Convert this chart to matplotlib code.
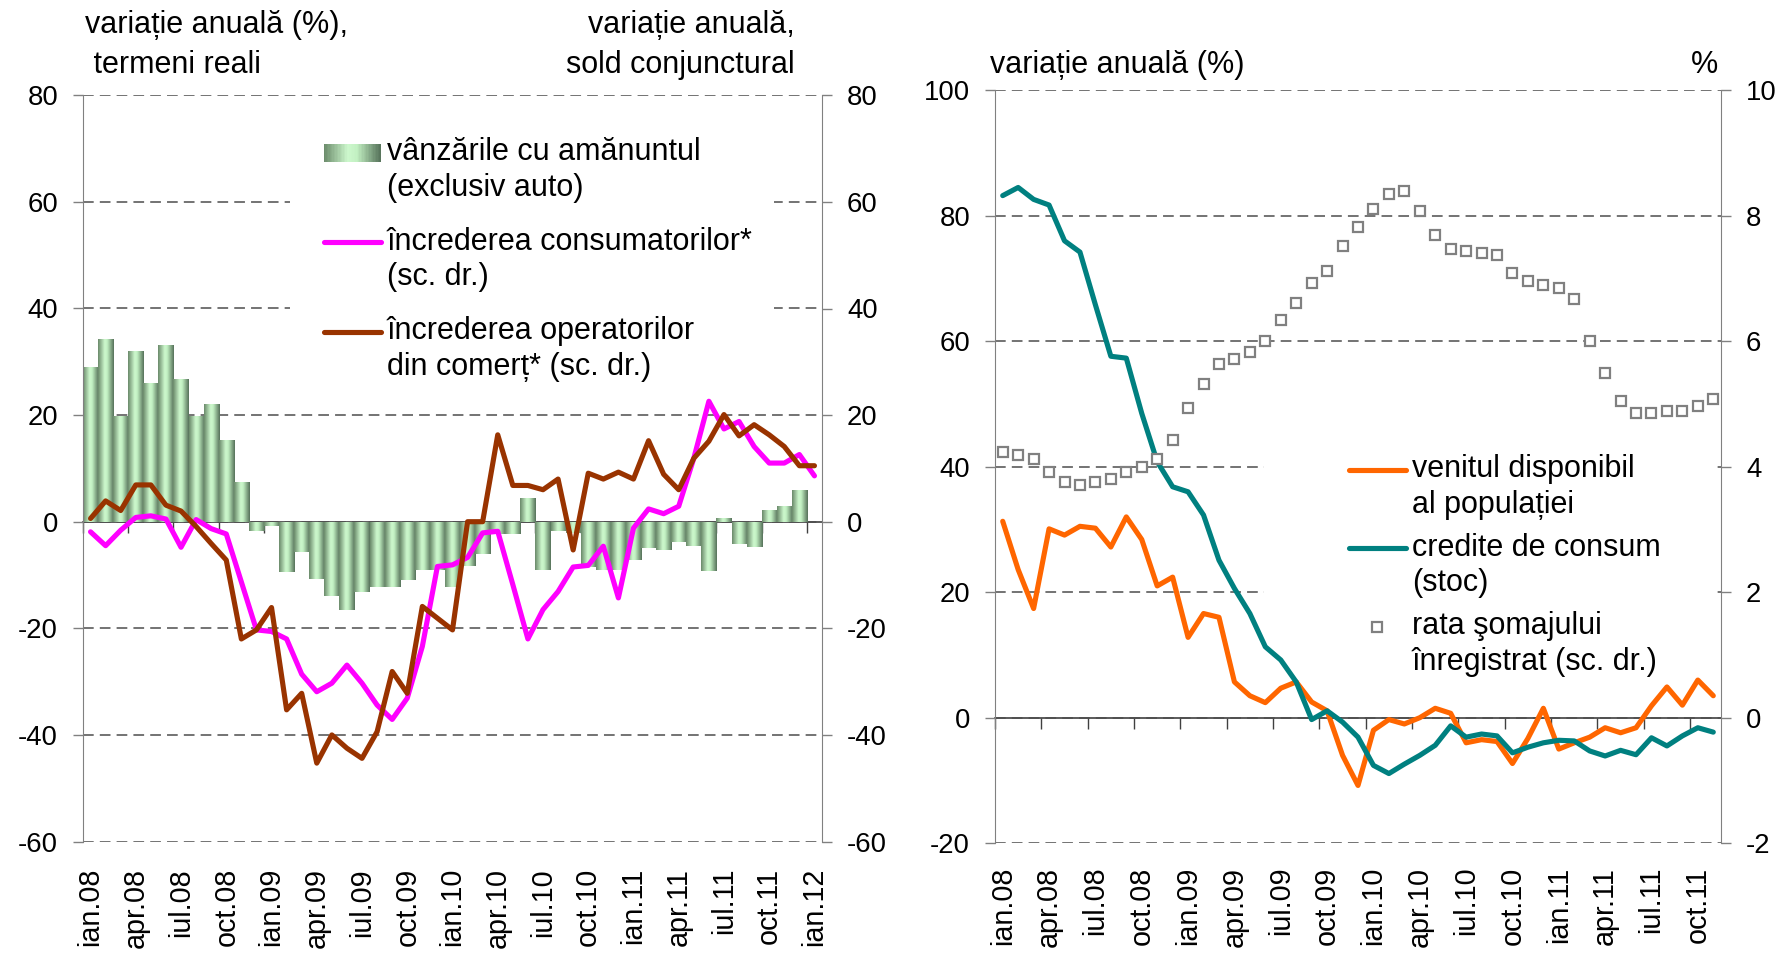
import numpy as np
import matplotlib
matplotlib.use('Agg')
import matplotlib.pyplot as plt
from matplotlib.patches import Rectangle
from matplotlib.legend_handler import HandlerBase, HandlerLine2D
from matplotlib.colors import LinearSegmentedColormap
from matplotlib.font_manager import FontProperties, findSystemFonts

plt.rcParams['font.family'] = ['Liberation Sans', 'DejaVu Sans']
plt.rcParams['axes.unicode_minus'] = False

# ---------------- data ----------------
left_xticklabels = ['ian.08', 'apr.08', 'iul.08', 'oct.08', 'ian.09', 'apr.09', 'iul.09', 'oct.09',
                    'ian.10', 'apr.10', 'iul.10', 'oct.10', 'ian.11', 'apr.11', 'iul.11', 'oct.11', 'ian.12']
right_xticklabels = ['ian.08', 'apr.08', 'iul.08', 'oct.08', 'ian.09', 'apr.09', 'iul.09', 'oct.09',
                     'ian.10', 'apr.10', 'iul.10', 'oct.10', 'ian.11', 'apr.11', 'iul.11', 'oct.11']

# left panel: monthly, ian.08 - dec.11 (bars), ian.08 - ian.12 (lines)
retail_sales = [29.0, 34.3, 19.9, 32.0, 26.0, 33.1, 26.8, 19.9, 22.0, 15.3, 7.4,
                -1.7, -0.9, -9.4, -5.7, -10.7, -13.9, -16.5, -13.2, -12.2, -12.2,
                -10.9, -9.1, -9.1, -12.3, -8.4, -6.1, -2.3, -2.3, 4.5,
                -9.1, -1.8, -2.2, -8.5, -9.0, -9.1, -7.1, -4.9, -5.4, -3.9,
                -4.6, -9.3, 0.7, -4.1, -4.7, 2.2, 3.0, 6.0]
consumer_conf = [-1.9, -4.5, -1.6, 0.8, 1.1, 0.5, -4.8, 0.4, -1.3, -2.3,
                 -11.3, -20.3, -20.6, -22.0, -28.6, -31.9, -30.3, -26.9, -30.3, -34.4,
                 -37.1, -33.1, -23.4, -8.4, -8.1, -6.7, -2.1, -1.8, -11.8, -22.0,
                 -16.5, -13.1, -8.5, -8.2, -4.6, -14.3, -1.2, 2.4, 1.5, 2.9,
                 11.9, 22.6, 17.4, 18.8, 14.1, 11.0, 11.0, 12.6, 8.6]
trade_conf = [0.6, 3.9, 2.1, 6.9, 6.9, 3.1, 2.0, -0.9, -4.1, -7.2,
              -22.0, -20.3, -16.1, -35.3, -32.2, -45.3, -40.0, -42.5, -44.4, -39.4,
              -28.1, -32.2, -15.9, -18.1, -20.3, 0.0, 0.0, 16.3, 6.8, 6.8,
              6.0, 8.0, -5.3, 9.1, 8.0, 9.3, 8.0, 15.2, 8.9, 6.0,
              11.9, 15.1, 20.1, 16.1, 18.2, 16.3, 14.1, 10.5, 10.5]

# right panel: monthly, ian.08 - nov.11
disposable_income = [31.3, 23.6, 17.4, 30.1, 29.1, 30.5, 30.2, 27.2, 32.0, 28.4,
                     21.0, 22.4, 12.8, 16.6, 16.0, 5.7, 3.5, 2.4, 4.7, 5.7,
                     2.5, 1.1, -6.0, -10.8, -2.0, -0.3, -1.0, 0.0, 1.5, 0.7,
                     -4.0, -3.5, -3.8, -7.3, -3.3, 1.5, -5.0, -4.0, -3.1, -1.6,
                     -2.4, -1.6, 1.9, 4.9, 2.0, 6.0, 3.5]
consumer_credit = [83.2, 84.5, 82.6, 81.7, 76.0, 74.2, 65.8, 57.6, 57.3, 48.5,
                   40.8, 36.8, 36.0, 32.3, 25.1, 20.6, 16.6, 11.3, 9.2, 5.7,
                   -0.3, 1.1, -0.7, -3.1, -7.6, -8.9, -7.4, -6.0, -4.4, -1.3,
                   -3.1, -2.6, -2.9, -5.6, -4.7, -4.0, -3.6, -3.7, -5.3, -6.1,
                   -5.2, -5.9, -3.2, -4.5, -2.9, -1.6, -2.3]
unemployment = [4.23, 4.19, 4.13, 3.91, 3.75, 3.71, 3.75, 3.81, 3.91, 4.00,
                4.13, 4.42, 4.93, 5.31, 5.63, 5.72, 5.82, 6.01, 6.33, 6.61,
                6.93, 7.12, 7.51, 7.82, 8.11, 8.34, 8.40, 8.08, 7.69, 7.47,
                7.44, 7.41, 7.38, 7.09, 6.96, 6.90, 6.84, 6.68, 6.01, 5.50,
                5.05, 4.86, 4.86, 4.89, 4.89, 4.96, 5.08]

# ---------------- style ----------------
W, H = 1785, 958
DPI = 100
GRID_C = '#4d4d4d'
SPINE_C = '#808080'
FS = 22
TICK_FS = 22
XTICK_FS = 23

narrow_path = None
for f in findSystemFonts():
    if f.endswith('LiberationSansNarrow-Regular.ttf'):
        narrow_path = f
        break


def tick_font(size):
    if narrow_path:
        return FontProperties(fname=narrow_path, size=size)
    return FontProperties(family=['Liberation Sans', 'DejaVu Sans'], size=size * 0.9)


grad_cmap = LinearSegmentedColormap.from_list(
    'bargrad', [(0.0, '#6a8a6a'), (0.42, '#cdf8cd'), (0.58, '#c2f0c2'), (1.0, '#56725a')])
grad = np.linspace(0, 1, 64).reshape(1, -1)

LINE_UP = 13.0  # points: aligns legend keys with the first text line


class GradientHandler(HandlerBase):
    def create_artists(self, legend, orig_handle, xdescent, ydescent, width, height, fontsize, trans):
        n = 40
        hh = height * 0.85
        y0 = -ydescent + (height - hh) / 2 + LINE_UP
        arts = []
        for k in range(n):
            r = Rectangle((-xdescent + width * k / n, y0), width / n * 1.1, hh,
                          facecolor=grad_cmap((k + 0.5) / n), edgecolor='none', transform=trans)
            arts.append(r)
        return arts


class UpLineHandler(HandlerLine2D):
    def create_artists(self, legend, orig_handle, xdescent, ydescent, width, height, fontsize, trans):
        return super().create_artists(legend, orig_handle, xdescent, ydescent - 2 * LINE_UP,
                                      width, height, fontsize, trans)


def px(x):
    return x / W


def py(y):
    return 1 - y / H


def style_axes(ax, ylim, yticks, tw, ylim2, yticks2, ncat, zero_frac):
    ax.set_xlim(-0.5, ncat - 0.5)
    ax.set_ylim(*ylim)
    ax.set_yticks(yticks)
    tw.set_ylim(*ylim2)
    tw.set_yticks(yticks2)
    for a in (ax, tw):
        for s in ('top', 'bottom'):
            a.spines[s].set_visible(False)
        a.spines['left'].set_color(SPINE_C)
        a.spines['right'].set_color(SPINE_C)
    ax.spines['right'].set_visible(False)
    tw.spines['left'].set_visible(False)
    ax.yaxis.grid(True, color=GRID_C, linestyle=(0, (7, 4)), linewidth=1.1)
    ax.set_axisbelow(True)
    ax.tick_params(axis='y', direction='out', length=7, width=1, color=SPINE_C, pad=11)
    tw.tick_params(axis='y', direction='out', length=7, width=1, color=SPINE_C, pad=11)
    for lbl in ax.get_yticklabels() + tw.get_yticklabels():
        lbl.set_fontproperties(tick_font(TICK_FS))
    # zero line with category tick marks
    sec = ax.secondary_xaxis(zero_frac)
    sec.set_xticks(np.arange(-0.5, ncat - 0.4, 3))
    sec.tick_params(axis='x', direction='out', length=8, width=1, color='#404040', labelbottom=False,
                    labeltop=False)
    sec.spines['bottom'].set_color('#404040')
    sec.spines['bottom'].set_linewidth(1.2)
    sec.spines['top'].set_visible(False)


def add_legend(ax, tw, handles, labels, anchor, labelspacing, bg, hmap):
    # white legend area: above the gridlines, below the plotted series
    rect = Rectangle((px(bg[0]), py(bg[3])), px(bg[2] - bg[0]), py(bg[1]) - py(bg[3]),
                     transform=ax.figure.transFigure, facecolor='white', edgecolor='none',
                     zorder=1, clip_on=False)
    ax.add_artist(rect)
    leg = tw.legend(handles, labels, handler_map=hmap,
                    loc='upper left', bbox_to_anchor=(px(anchor[0]), py(anchor[1])),
                    bbox_transform=tw.figure.transFigure, frameon=False,
                    fontsize=FS, handlelength=1.85, handletextpad=0.2, labelspacing=labelspacing,
                    borderpad=0, borderaxespad=0)
    for t in leg.get_texts():
        t.set_linespacing(1.26)
    leg.set_zorder(10)
    return leg


fig = plt.figure(figsize=(W / DPI, H / DPI), dpi=DPI)

# ================= left panel =================
axL = fig.add_axes([px(83), py(841.5), px(822 - 83), py(95.3) - py(841.5)])
twL = axL.twinx()
nL = len(consumer_conf)
xb = np.arange(len(retail_sales))
bars = axL.bar(xb, retail_sales, width=1.0, color='none', edgecolor='none', zorder=2)
for b in bars:
    bx, by, bw, bh = b.get_x(), b.get_y(), b.get_width(), b.get_height()
    im = axL.imshow(grad, cmap=grad_cmap, extent=(bx, bx + bw, by, by + bh), aspect='auto',
                    interpolation='bilinear', zorder=2)
    im.set_clip_path(b)
xl = np.arange(nL)
ln_cons, = twL.plot(xl, consumer_conf, color='#ff00ff', lw=3.7, solid_joinstyle='round',
                    solid_capstyle='round', zorder=3)
ln_trade, = twL.plot(xl, trade_conf, color='#993300', lw=3.7, solid_joinstyle='round',
                     solid_capstyle='round', zorder=3)
style_axes(axL, (-60, 80), np.arange(-60, 81, 20), twL, (-60, 80), np.arange(-60, 81, 20), nL, 60 / 140)
axL.set_xticks(np.arange(0, nL, 3))
axL.set_xticklabels(left_xticklabels, rotation=90, fontproperties=tick_font(XTICK_FS))
axL.tick_params(axis='x', length=0, pad=19)

bar_proxy = Rectangle((0, 0), 1, 1)
add_legend(axL, twL, [bar_proxy, ln_cons, ln_trade],
           ['vânzările cu amănuntul\n(exclusiv auto)',
            'încrederea consumatorilor*\n(sc. dr.)',
            'încrederea operatorilor\ndin comerț* (sc. dr.)'],
           anchor=(324, 137), labelspacing=0.77, bg=(290, 112, 774, 398),
           hmap={bar_proxy: GradientHandler(), ln_cons: UpLineHandler(), ln_trade: UpLineHandler()})

fig.text(px(85), py(25), 'variație anuală (%),', fontsize=FS, ha='left', va='center')
fig.text(px(85), py(65), ' termeni reali', fontsize=FS, ha='left', va='center')
fig.text(px(795), py(25), 'variație anuală,', fontsize=FS, ha='right', va='center')
fig.text(px(795), py(65), 'sold conjunctural', fontsize=FS, ha='right', va='center')

# ================= right panel =================
axR = fig.add_axes([px(995), py(843.2), px(1721 - 995), py(90.2) - py(843.2)])
twR = axR.twinx()
nR = len(disposable_income)
xr = np.arange(nR)
ln_inc, = axR.plot(xr, disposable_income, color='#ff6600', lw=3.7, solid_joinstyle='round',
                   solid_capstyle='round', zorder=3)
ln_cred, = axR.plot(xr, consumer_credit, color='#008080', lw=3.7, solid_joinstyle='round',
                    solid_capstyle='round', zorder=3)
sc_unemp, = twR.plot(xr, unemployment, linestyle='none', marker='s', markersize=7.5,
                     markerfacecolor='white', markeredgecolor='#808080', markeredgewidth=1.6, zorder=4)
style_axes(axR, (-20, 100), np.arange(-20, 101, 20), twR, (-2, 10), np.arange(-2, 11, 2), nR, 20 / 120)
axR.set_xticks(np.arange(0, nR, 3))
axR.set_xticklabels(right_xticklabels, rotation=90, fontproperties=tick_font(XTICK_FS))
axR.tick_params(axis='x', length=0, pad=17)

add_legend(axR, twR, [ln_inc, ln_cred, sc_unemp],
           ['venitul disponibil\nal populației',
            'credite de consum\n(stoc)',
            'rata şomajului\nînregistrat (sc. dr.)'],
           anchor=(1349, 454), labelspacing=0.41, bg=(1264, 420, 1717, 690),
           hmap={ln_inc: UpLineHandler(), ln_cred: UpLineHandler(), sc_unemp: UpLineHandler()})

fig.text(px(990), py(65), 'variație anuală (%)', fontsize=FS, ha='left', va='center')
fig.text(px(1704), py(65), '%', fontsize=FS, ha='center', va='center')

fig.savefig('out.png', dpi=DPI)
